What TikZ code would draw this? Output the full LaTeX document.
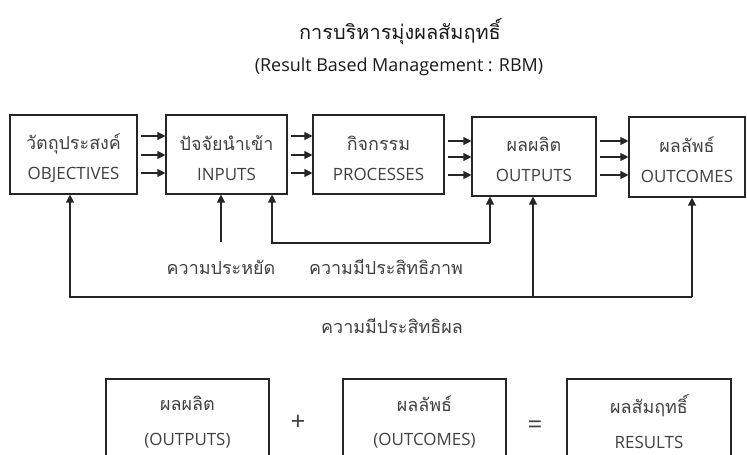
\documentclass[tikz,border=0pt]{standalone}
\usepackage{fontspec}
\setmainfont{Open Sans}
\newfontfamily\thai[Script=Thai]{Loma}
\usetikzlibrary{arrows.meta}
\begin{document}
\begin{tikzpicture}[x=1bp,y=-1bp,
  box/.style={draw=black!85, line width=1.1bp, inner sep=0pt},
  btxt/.style={inner sep=0pt, align=center, text=black!75, font=\fontsize{17}{30}\selectfont},
  rbox/.style={draw=black!85, line width=1.1bp, inner sep=0pt, align=center, text=black!75,
    font=\fontsize{17}{35}\selectfont, minimum height=86bp},
  th/.style={font=\thai\fontsize{18}{30}\selectfont},
  arr/.style={draw=black!85, line width=1.1bp, -{Triangle[length=8bp,width=8bp]}},
  lbl/.style={text=black!75, font=\thai\fontsize{18}{20}\selectfont, inner sep=0pt},
  op/.style={text=black!75, font=\fontsize{26}{28}\selectfont, inner sep=0pt}]
\useasboundingbox (0,0) rectangle (747,455);
\clip (0,0) rectangle (747,455);

% titles
\node[text=black!90, font=\thai\fontsize{20}{22}\selectfont, inner sep=0pt] (t1) at (400,32) {การบริหารมุ่งผลสัมฤทธิ์};
\node[text=black!90, font=\fontsize{18}{20}\selectfont, inner sep=0pt] (t2) at (399,67) {(Result Based Management : RBM)};

% top row boxes
\node[box, minimum width=127bp, minimum height=79bp] (obj) at (73.5,154.5) {};
\node[box, minimum width=121bp, minimum height=79bp] (inp) at (226.5,154.5) {};
\node[box, minimum width=131bp, minimum height=79bp] (pro) at (378.5,154.5) {};
\node[box, minimum width=124bp, minimum height=79bp] (out) at (534,156.5) {};
\node[box, minimum width=116bp, minimum height=80bp] (oc) at (687,157) {};

\node[btxt] (objt) at ([yshift=-4bp]obj.center) {{\thai\fontsize{18}{30}\selectfont วัตถุประสงค์}\\OBJECTIVES};
\node[btxt] (inpt) at ([yshift=-4bp]inp.center) {{\thai\fontsize{18}{30}\selectfont ปัจจัยนำเข้า}\\INPUTS};
\node[btxt] (prot) at ([yshift=-4bp]pro.center) {{\thai\fontsize{18}{30}\selectfont กิจกรรม}\\PROCESSES};
\node[btxt] (outt) at ([yshift=-3bp]out.center) {{\thai\fontsize{18}{30}\selectfont ผลผลิต}\\OUTPUTS};
\node[btxt] (oct) at ([yshift=-3bp]oc.center) {{\thai\fontsize{18}{30}\selectfont ผลลัพธ์}\\OUTCOMES};

% forward arrows
\foreach \y in {136,155,173}{
  \draw[arr] ([xshift=3bp]obj.east |- 0,\y) -- (inp.west |- 0,\y);
  \draw[arr] ([xshift=3bp]inp.east |- 0,\y) -- (pro.west |- 0,\y);
}
\foreach \y in {141,157,175}{
  \draw[arr] ([xshift=3bp]pro.east |- 0,\y) -- (out.west |- 0,\y);
  \draw[arr] ([xshift=3bp]out.east |- 0,\y) -- (oc.west |- 0,\y);
}

% feedback: economy
\coordinate (e0) at (221,242);
\draw[arr] (e0) -- (e0 |- inp.south);
\node[lbl] (l1) at (221,267) {ความประหยัด};

% feedback: efficiency
\coordinate (f1) at (272,243);
\coordinate (f2) at (490,243);
\draw[arr] (f2) -- (f1) -- (f1 |- inp.south);
\draw[arr] (f2) -- (f2 |- out.south);
\node[lbl] (l2) at (386,267) {ความมีประสิทธิภาพ};

% feedback: effectiveness
\coordinate (g1) at (70,297);
\coordinate (g2) at (533,297);
\coordinate (g3) at (692,297);
\draw[arr] (g3) -- (g1) -- (g1 |- obj.south);
\draw[arr] (g3) -- (g3 |- oc.south);
\draw[arr] (g2) -- (g2 |- out.south);
\node[lbl] (l3) at (392,326) {ความมีประสิทธิผล};

% bottom equation
\node[rbox, minimum width=163bp] (r1) at (187.5,422) {{\thai\fontsize{18}{35}\selectfont ผลผลิต}\\(OUTPUTS)};
\node[op] (plus) at (298,423) {+};
\node[rbox, minimum width=163bp] (r2) at (424.5,422) {{\thai\fontsize{18}{35}\selectfont ผลลัพธ์}\\(OUTCOMES)};
\node[op] (eq) at (535,427) {=};
\node[rbox, minimum width=164bp] (r3) at (649,422) {{\thai\fontsize{18}{35}\selectfont ผลสัมฤทธิ์}\\RESULTS};
\end{tikzpicture}
\end{document}
